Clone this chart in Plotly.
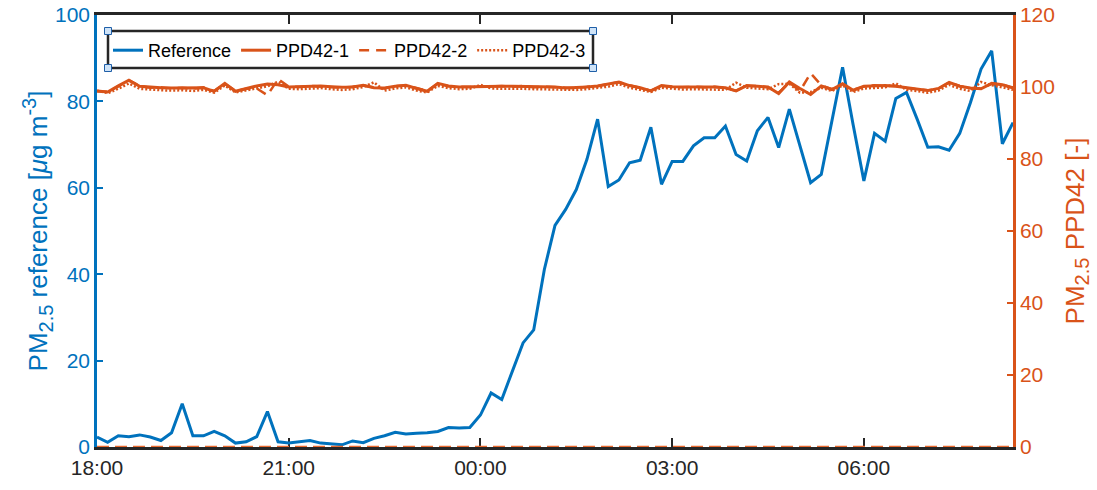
import pandas as pd
import plotly.graph_objects as go

# ---------------- data ----------------
TIMES = pd.date_range("2017-01-01 18:00", periods=87, freq="10min")
X_START = "2017-01-01 18:00"
X_END = "2017-01-02 08:20"

REFERENCE = [
    2.3, 1.1, 2.6, 2.4, 2.8, 2.3, 1.5, 3.3, 10.0, 2.6,
    2.6, 3.6, 2.6, 0.9, 1.2, 2.4, 8.2, 1.2, 0.9, 1.2,
    1.5, 0.9, 0.7, 0.5, 1.4, 1.0, 2.0, 2.6, 3.4, 3.0,
    3.2, 3.3, 3.6, 4.5, 4.4, 4.5, 7.4, 12.5, 11.0, 17.7,
    24.1, 27.1, 41.1, 51.3, 55.0, 59.6, 66.6, 75.9, 60.3, 61.8,
    65.8, 66.4, 74.0, 60.8, 66.1, 66.1, 69.7, 71.6, 71.6, 74.3,
    67.7, 66.2, 73.2, 76.3, 69.3, 78.2, 69.7, 61.2, 63.1, 75.5,
    87.9, 74.5, 61.6, 72.6, 70.8, 80.7, 82.1, 75.9, 69.4, 69.5,
    68.7, 72.6, 79.7, 87.5, 91.7, 70.2, 75.1,
]

PPD42_1 = [
    98.9, 98.6, 100.3, 101.9, 100.2, 99.9, 99.8, 99.7, 99.7, 99.6,
    99.8, 98.8, 101.0, 98.8, 99.6, 100.3, 100.8, 100.6, 100.0, 100.1,
    100.2, 100.3, 100.1, 99.9, 100.0, 100.5, 99.8, 99.7, 100.2, 100.5,
    99.6, 98.8, 101.0, 100.3, 100.0, 100.1, 100.1, 100.2, 100.2, 100.2,
    100.2, 100.0, 100.0, 100.0, 99.7, 99.8, 100.0, 100.3, 100.8, 101.4,
    100.4, 99.8, 98.9, 100.4, 100.1, 100.0, 100.0, 100.0, 100.0, 99.8,
    98.9, 100.4, 100.2, 100.0, 98.2, 101.4, 99.6, 97.9, 100.3, 99.3,
    100.9, 99.1, 100.2, 100.4, 100.4, 100.2, 99.8, 99.4, 99.0, 99.6,
    101.3, 100.2, 99.7, 99.5, 101.0, 100.6, 99.8,
]

PPD42_2 = [
    98.8, 98.7, 100.2, 101.8, 100.3, 99.8, 99.9, 99.6, 99.8, 99.5,
    99.9, 98.9, 100.9, 98.9, 99.5, 99.6, 97.7, 102.2, 100.1, 100.0,
    100.3, 100.2, 100.0, 99.8, 100.1, 100.4, 99.9, 99.6, 100.3, 100.4,
    99.7, 98.9, 100.9, 100.2, 100.1, 100.0, 100.2, 100.1, 100.3, 100.1,
    100.3, 99.9, 100.1, 99.9, 99.8, 99.7, 100.1, 100.2, 100.9, 101.3,
    100.5, 99.7, 99.0, 100.3, 100.2, 99.9, 100.1, 99.9, 100.1, 99.7,
    99.0, 100.3, 100.3, 99.9, 98.4, 101.2, 98.9, 103.8, 100.5, 99.4,
    100.8, 99.2, 100.1, 100.5, 100.3, 100.3, 99.7, 99.5, 99.1, 99.5,
    101.2, 100.3, 99.6, 99.6, 100.9, 100.7, 99.7,
]

PPD42_3 = [
    99.0, 98.3, 99.5, 101.0, 99.5, 99.2, 99.1, 99.0, 99.1, 98.9,
    99.2, 98.4, 100.4, 98.5, 99.0, 99.7, 100.2, 101.5, 99.5, 99.4,
    99.6, 99.7, 99.4, 99.2, 99.4, 100.0, 101.3, 99.0, 99.6, 99.9,
    99.0, 98.5, 100.3, 99.7, 99.4, 99.5, 100.6, 99.6, 99.5, 99.6,
    99.5, 99.4, 99.3, 99.4, 99.1, 99.2, 99.4, 99.7, 100.1, 100.8,
    99.8, 99.2, 98.6, 99.8, 99.5, 99.3, 99.4, 99.3, 99.4, 99.2,
    101.2, 99.8, 99.6, 99.4, 100.8, 100.9, 98.4, 98.6, 99.8, 98.9,
    100.4, 98.6, 99.6, 99.8, 99.9, 101.0, 99.2, 98.9, 98.4, 99.0,
    100.6, 99.5, 98.9, 101.4, 100.5, 99.9, 99.2,
]

ZERO_TIMES = [X_START, X_END]
ZERO_VALUES = [0, 0]

BLUE = "#0072BD"
ORANGE = "#D95319"
FONT = "Liberation Sans, Arial, sans-serif"

fig = go.Figure()

fig.add_trace(go.Scatter(x=TIMES, y=REFERENCE, mode="lines", name="Reference",
                         line=dict(color=BLUE, width=3), yaxis="y"))
fig.add_trace(go.Scatter(x=TIMES, y=PPD42_1, mode="lines", name="PPD42-1",
                         line=dict(color=ORANGE, width=3), yaxis="y2"))
fig.add_trace(go.Scatter(x=TIMES, y=PPD42_2, mode="lines", name="PPD42-2",
                         line=dict(color=ORANGE, width=2.5, dash="10px,7px"), yaxis="y2"))
fig.add_trace(go.Scatter(x=TIMES, y=PPD42_3, mode="lines", name="PPD42-3",
                         line=dict(color=ORANGE, width=2.5, dash="2px,2px"), yaxis="y2"))
fig.add_trace(go.Scatter(x=ZERO_TIMES, y=ZERO_VALUES, mode="lines", showlegend=False,
                         line=dict(color="#E8692F", width=2.5, dash="12px,6px"), yaxis="y2"))

W, H = 1097, 490
L, R, T, B = 97, 84, 15, 43
pw, ph = W - L - R, H - T - B


def px2paper(px, py):
    return (px - L) / pw, (H - B - py) / ph


# legend frame and handles
x0, y0 = px2paper(108, 31)
x1, y1 = px2paper(593, 68)
shapes = [dict(type="rect", xref="paper", yref="paper", x0=x0, x1=x1, y0=y1, y1=y0,
               line=dict(color="#262626", width=2.5), fillcolor="white", layer="above")]
hs = 7
for (hx, hy) in [(108, 31), (593, 31), (108, 68), (593, 68)]:
    a, b = px2paper(hx - hs / 2, hy + hs / 2)
    c, d = px2paper(hx + hs / 2, hy - hs / 2)
    shapes.append(dict(type="rect", xref="paper", yref="paper", x0=a, x1=c, y0=b, y1=d,
                       line=dict(color="#1f5fa8", width=1), fillcolor="#cfe3f7", layer="above"))

lx, ly = px2paper(108, 32)

SUB = '<sub><span style="font-size:20px">2.5</span></sub>'
SUP = '<sup><span style="font-size:20px">-3</span></sup>'

fig.update_layout(
    width=W, height=H,
    margin=dict(l=L, r=R, t=T, b=B, autoexpand=False),
    plot_bgcolor="white", paper_bgcolor="white",
    font=dict(family=FONT, size=21, color="#262626"),
    showlegend=True,
    legend=dict(orientation="h", x=lx, y=ly, xanchor="left", yanchor="top",
                bgcolor="rgba(0,0,0,0)", borderwidth=0,
                font=dict(size=18, color="#000000"),
                itemwidth=30, tracegroupgap=0),
    shapes=shapes,
    xaxis=dict(
        type="date", range=[X_START, X_END], automargin=False,
        tick0=X_START, dtick=3 * 3600 * 1000, tickformat="%H:%M",
        showgrid=False, zeroline=False,
        showline=True, linecolor="#262626", linewidth=2.5, mirror="ticks",
        ticks="inside", ticklen=9, tickwidth=2, tickcolor="#262626",
        tickfont=dict(size=21, color="#262626"),
        layer="below traces",
    ),
    yaxis=dict(
        range=[0, 100], dtick=20, showgrid=False, zeroline=False, automargin=False,
        showline=True, linecolor=BLUE, linewidth=2.5,
        ticks="inside", ticklen=6, tickwidth=2, tickcolor=BLUE,
        tickfont=dict(size=21, color=BLUE),
        title=dict(text="PM" + SUB + " reference [<i>μ</i>g m" + SUP + "]",
                   font=dict(size=26, color=BLUE), standoff=0),
        layer="below traces",
    ),
    yaxis2=dict(
        range=[0, 120], dtick=20, overlaying="y", side="right", automargin=False,
        showgrid=False, zeroline=False,
        showline=True, linecolor=ORANGE, linewidth=2.5,
        ticks="inside", ticklen=6, tickwidth=2, tickcolor=ORANGE,
        tickfont=dict(size=21, color=ORANGE),
        title=dict(text="PM" + SUB + " PPD42 [-]",
                   font=dict(size=26, color=ORANGE), standoff=12),
    ),
)

fig.write_html("out.html")
